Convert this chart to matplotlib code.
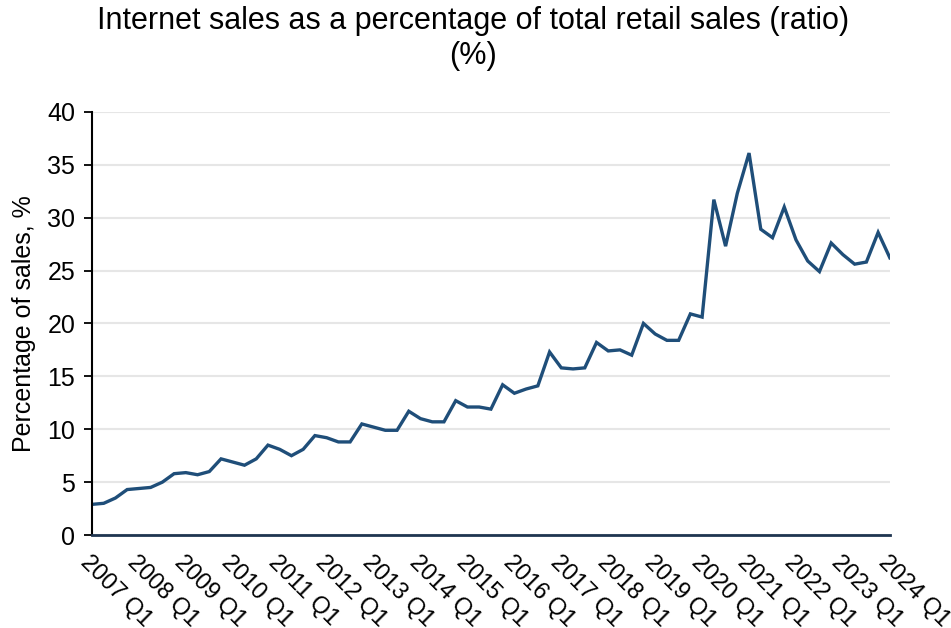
import matplotlib.pyplot as plt
import numpy as np

plt.rcParams['font.family'] = ['Liberation Sans', 'DejaVu Sans']

# quarterly internet share of retail sales, 2007 Q1 - 2024 Q1
years = list(range(2007, 2025))
internet_share = [
    2.9, 3.0, 3.5, 4.3,
    4.4, 4.5, 5.0, 5.8,
    5.9, 5.7, 6.0, 7.2,
    6.9, 6.6, 7.2, 8.5,
    8.1, 7.5, 8.1, 9.4,
    9.2, 8.8, 8.8, 10.5,
    10.2, 9.9, 9.9, 11.7,
    11.0, 10.7, 10.7, 12.7,
    12.1, 12.1, 11.9, 14.2,
    13.4, 13.8, 14.1, 17.3,
    15.8, 15.7, 15.8, 18.2,
    17.4, 17.5, 17.0, 20.0,
    19.0, 18.4, 18.4, 20.9,
    20.6, 31.7, 27.3, 32.3,
    36.1, 28.9, 28.1, 31.0,
    27.9, 25.9, 24.9, 27.6,
    26.5, 25.6, 25.8, 28.6,
    26.2,
]
tick_labels = [f'{y} Q1' for y in years]

fig = plt.figure(figsize=(9.51, 6.28), dpi=100)
ax = fig.add_axes([0.0967, 0.148, 0.839, 0.674])

x = np.arange(len(internet_share))
ax.plot(x, internet_share, color='#1f4e79', linewidth=2.4, solid_joinstyle='miter')

ax.set_xlim(0, len(internet_share) - 1)
ax.set_ylim(0, 40)
ax.set_yticks(range(0, 41, 5))
ax.yaxis.grid(True, color='#e6e6e6', linewidth=1.5)
ax.set_axisbelow(True)

ax.set_xticks(x[::4])
ax.set_xticklabels(tick_labels, rotation=-45, ha='left', va='top',
                   rotation_mode='anchor', fontsize=17)
ax.tick_params(axis='x', length=0, pad=12)
ax.tick_params(axis='y', labelsize=18, length=6, width=1.3, direction='out', pad=6)

for side in ['top', 'right']:
    ax.spines[side].set_visible(False)
ax.spines['left'].set_linewidth(1.5)
ax.spines['bottom'].set_color('#1f3550')
ax.spines['bottom'].set_linewidth(2)

ax.set_ylabel('Percentage of sales, %', fontsize=18, labelpad=8)
fig.suptitle('Internet sales as a percentage of total retail sales (ratio)\n(%)',
             fontsize=22, x=0.497, y=0.99, linespacing=1.2)

fig.savefig('out.png', dpi=100)
